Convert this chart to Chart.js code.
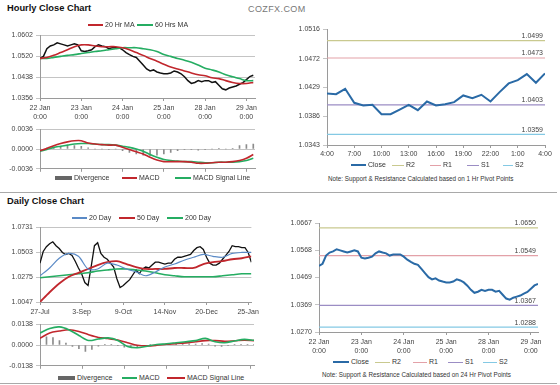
<!DOCTYPE html>
<html>
<head>
<meta charset="utf-8">
<script src="https://cdn.jsdelivr.net/npm/chart.js@4.4.1/dist/chart.umd.min.js"></script>
<style>
  body { margin: 0; background: #fff; }
  #page { position: relative; width: 560px; height: 385px; overflow: hidden; font-family: "Liberation Sans", Arial, sans-serif; color: #333; }
  #page canvas { position: absolute; }
  .title { position: absolute; left: 7px; font-size: 9.3px; font-weight: bold; color: #111; }
  .brand { position: absolute; left: 248px; top: 4px; font-size: 9px; letter-spacing: 0.4px; color: #777; }
  .rule { position: absolute; left: 0; width: 557px; height: 1px; background: #a9a9a9; }
  .key { position: absolute; }
  .lbl { position: absolute; font-size: 7px; line-height: 8px; white-space: nowrap; color: #333; }
  .note { position: absolute; font-size: 6.3px; line-height: 8px; white-space: nowrap; color: #333; }
</style>
</head>
<body>
<div id="page">
  <div class="title" style="top:3px">Hourly Close Chart</div>
  <div class="brand">COZFX.COM</div>
  <div class="title" style="top:196px">Daily Close Chart</div>
  <div class="rule" style="top:192px"></div>
  <div class="rule" style="top:383px"></div>

  <canvas id="hourly" width="262" height="95" style="left:0;top:28px"></canvas>
  <canvas id="hourlyMacd" width="262" height="54" style="left:0;top:122px"></canvas>
  <canvas id="daily" width="262" height="97" style="left:0;top:220px"></canvas>
  <canvas id="dailyMacd" width="262" height="56" style="left:0;top:317px"></canvas>
  <canvas id="pivot1" width="280" height="140" style="left:280px;top:22px"></canvas>
  <canvas id="pivot24" width="290" height="140" style="left:270px;top:216px"></canvas>

  <div class="note" style="left:328px;top:175px">Note: Support &amp; Resistance Calculated based on 1 Hr Pivot Points</div>
  <div class="note" style="left:322px;top:371px">Note: Support &amp; Resistance Calculated based on 24 Hr Pivot Points</div>
</div>
<script>
// ---- hourly: 22 Jan 0:00 -> 29 Jan 4:00, one value every 2 hours ----
const hourLabels = [["22 Jan", "0:00"], ["23 Jan", "0:00"], ["24 Jan", "0:00"], ["25 Jan", "0:00"], ["28 Jan", "0:00"], ["29 Jan", "0:00"]];
const hourTickPos = [0, 12, 24, 36, 48, 60];
const hourlyClose = [
  1.0511, 1.0519, 1.0549, 1.0560, 1.0564, 1.0572, 1.0568, 1.0564, 1.0560, 1.0564, 1.0568, 1.0564,
  1.0541, 1.0538, 1.0541, 1.0545, 1.0557, 1.0564, 1.0560, 1.0557, 1.0549, 1.0553, 1.0553, 1.0553,
  1.0545, 1.0534, 1.0526, 1.0519, 1.0515, 1.0500, 1.0485, 1.0470, 1.0462, 1.0466, 1.0458, 1.0454,
  1.0451, 1.0451, 1.0454, 1.0462, 1.0458, 1.0451, 1.0439, 1.0424, 1.0413, 1.0417, 1.0424, 1.0420,
  1.0424, 1.0424, 1.0417, 1.0420, 1.0406, 1.0392, 1.0388, 1.0395, 1.0399, 1.0403, 1.0410, 1.0416,
  1.0428, 1.0440, 1.0445
];
// moving averages, one value every 4 hours
const ma20Hr = [1.0511, 1.0515, 1.0523, 1.0534, 1.0545, 1.0557, 1.0564, 1.0564, 1.0560, 1.0557, 1.0557, 1.0557,
  1.0553, 1.0545, 1.0534, 1.0523, 1.0511, 1.0500, 1.0488, 1.0477, 1.0470, 1.0462, 1.0454, 1.0447,
  1.0443, 1.0435, 1.0432, 1.0424, 1.0417, 1.0413, 1.0413, 1.0417];
const ma60Hr = [1.0511, 1.0511, 1.0515, 1.0519, 1.0523, 1.0526, 1.0530, 1.0534, 1.0538, 1.0541, 1.0545, 1.0549,
  1.0553, 1.0553, 1.0553, 1.0549, 1.0545, 1.0538, 1.0526, 1.0519, 1.0511, 1.0504, 1.0496, 1.0485,
  1.0473, 1.0466, 1.0458, 1.0447, 1.0439, 1.0432, 1.0424, 1.0424];
const macdHr = [-0.0003, 0.0001, 0.0006, 0.0010, 0.0013, 0.0015, 0.0015, 0.0011, 0.0009, 0.0008, 0.0007, 0.0007,
  0.0003, -0.0001, -0.0005, -0.0009, -0.0015, -0.0020, -0.0023, -0.0023, -0.0023, -0.0023, -0.0024, -0.0026,
  -0.0026, -0.0025, -0.0024, -0.0024, -0.0023, -0.0021, -0.0017, -0.0010];
const signalHr = [-0.0004, -0.0001, 0.0003, 0.0005, 0.0007, 0.0009, 0.0010, 0.0010, 0.0009, 0.0008, 0.0008, 0.0007,
  0.0005, 0.0003, 0.0000, -0.0004, -0.0010, -0.0015, -0.0019, -0.0021, -0.0022, -0.0023, -0.0023, -0.0024,
  -0.0025, -0.0025, -0.0024, -0.0024, -0.0024, -0.0023, -0.0021, -0.0017];
const divergenceHr = [0.0001, 0.0002, 0.0003, 0.0005, 0.0006, 0.0006, 0.0005, 0.0002, 0.0000, 0.0000, -0.0001, 0.0000,
  -0.0003, -0.0006, -0.0009, -0.0011, -0.0012, -0.0011, -0.0009, -0.0006, -0.0003, -0.0001, -0.0001, -0.0002,
  -0.0001, 0.0000, 0.0001, 0.0000, 0.0001, 0.0006, 0.0008, 0.0009];
const hourlyTicks = [1.0356, 1.0438, 1.0520, 1.0602];
const macdHrTicks = [-0.0036, 0.0000, 0.0036];

// ---- daily: 27-Jul -> 25-Jan, one value every 2 trading days ----
const dayLabels = ["27-Jul", "3-Sep", "9-Oct", "14-Nov", "20-Dec", "25-Jan"];
const dayTickPos = [0, 13, 26, 39, 52, 65];
const dailyClose = [
  1.0402, 1.0509, 1.0553, 1.0580, 1.0598, 1.0562, 1.0536, 1.0500, 1.0482, 1.0491, 1.0473, 1.0420,
  1.0358, 1.0305, 1.0225, 1.0198, 1.0376, 1.0562, 1.0589, 1.0491, 1.0456, 1.0438, 1.0402, 1.0367,
  1.0260, 1.0180, 1.0198, 1.0225, 1.0251, 1.0296, 1.0340, 1.0305, 1.0349, 1.0367, 1.0358, 1.0385,
  1.0411, 1.0411, 1.0402, 1.0394, 1.0402, 1.0402, 1.0438, 1.0456, 1.0456, 1.0465, 1.0473, 1.0482,
  1.0518, 1.0544, 1.0553, 1.0527, 1.0456, 1.0402, 1.0385, 1.0385, 1.0402, 1.0438, 1.0473, 1.0509,
  1.0562, 1.0553, 1.0553, 1.0544, 1.0544, 1.0500, 1.0411
];
// moving averages, one value every 6 trading days
const ma20Day = [1.0287, 1.0358, 1.0447, 1.0491, 1.0465, 1.0349, 1.0349, 1.0402, 1.0385, 1.0349, 1.0322, 1.0287,
  1.0322, 1.0367, 1.0394, 1.0429, 1.0456, 1.0482, 1.0465, 1.0456, 1.0491, 1.0500, 1.0500];
const ma50Day = [1.0047, 1.0136, 1.0216, 1.0278, 1.0314, 1.0349, 1.0385, 1.0411, 1.0420, 1.0394, 1.0367, 1.0349,
  1.0349, 1.0349, 1.0358, 1.0358, 1.0358, 1.0394, 1.0411, 1.0420, 1.0438, 1.0447, 1.0465];
const ma200Day = [1.0269, 1.0278, 1.0287, 1.0296, 1.0305, 1.0314, 1.0331, 1.0340, 1.0349, 1.0349, 1.0340, 1.0331,
  1.0314, 1.0296, 1.0287, 1.0278, 1.0278, 1.0278, 1.0278, 1.0287, 1.0296, 1.0305, 1.0305];
const macdDay = [0.0080, 0.0110, 0.0120, 0.0100, 0.0063, 0.0030, 0.0040, 0.0047, 0.0030, -0.0010, -0.0018, -0.0008,
  0.0003, 0.0008, 0.0015, 0.0022, 0.0029, 0.0044, 0.0022, 0.0015, 0.0027, 0.0037, 0.0031];
const signalDay = [0.0045, 0.0080, 0.0093, 0.0101, 0.0090, 0.0068, 0.0050, 0.0043, 0.0033, 0.0015, -0.0002, -0.0006,
  -0.0002, 0.0005, 0.0009, 0.0014, 0.0022, 0.0029, 0.0029, 0.0025, 0.0028, 0.0032, 0.0029];
// divergence, one value every 4 trading days
const divergenceDay = [0.0040, 0.0055, 0.0050, 0.0030, 0.0012, -0.0010, -0.0025, -0.0043, -0.0030, -0.0008, 0.0003, 0.0004,
  -0.0005, -0.0015, -0.0018, -0.0012, -0.0005, 0.0002, 0.0003, 0.0003, 0.0005, 0.0006, 0.0007, 0.0008,
  0.0006, 0.0010, 0.0006, -0.0008, -0.0010, -0.0004, 0.0002, 0.0005, 0.0004, 0.0002];
const dailyTicks = [1.0047, 1.0275, 1.0503, 1.0731];
const macdDayTicks = [-0.0138, 0.0000, 0.0138];

// ---- last 24 hours with 1 Hr pivot levels ----
const pivotHourLabels = ["4:00", "7:00", "10:00", "13:00", "16:00", "19:00", "22:00", "1:00", "4:00"];
const pivotHourPos = [0, 3, 6, 9, 12, 15, 18, 21, 24];
const close24 = [1.0420, 1.0419, 1.0427, 1.0406, 1.0402, 1.0403, 1.0389, 1.0389, 1.0396, 1.0403, 1.0395, 1.0408,
  1.0402, 1.0404, 1.0407, 1.0417, 1.0413, 1.0418, 1.0408, 1.0422, 1.0435, 1.0440, 1.0449, 1.0436, 1.0450];
const pivot1Hr = { R2: 1.0499, R1: 1.0473, S1: 1.0403, S2: 1.0359 };
const pivot1Ticks = [1.0343, 1.0386, 1.0429, 1.0472, 1.0516];

// ---- 24 Hr pivot levels (drawn over the hourly close) ----
const pivot24Hr = { R2: 1.0650, R1: 1.0549, S1: 1.0367, S2: 1.0288 };
const pivot24Ticks = [1.0270, 1.0369, 1.0469, 1.0568, 1.0667];

const RED = "#c1272d", GREEN = "#25ad62", BLUE = "#5a8ac6", CLOSE = "#2a6aa6";
const LEVEL = { R2: "#c9c98f", R1: "#e3a1a8", S1: "#9b8dc4", S2: "#84c9e4" };

Chart.defaults.font.family = '"Liberation Sans", Arial, sans-serif';
Chart.defaults.font.size = 7;
Chart.defaults.color = "#444";
Chart.defaults.animation = false;
Chart.defaults.responsive = false;
Chart.defaults.plugins.legend.display = false;
Chart.defaults.plugins.tooltip.enabled = false;

const pts = (arr, step) => arr.map((v, i) => ({ x: i * step, y: v }));
function line(label, data, color, width, tension) {
  return { type: "line", label, data, borderColor: color, borderWidth: width, pointRadius: 0, tension: tension || 0, fill: false };
}
function bars(label, data) {
  return { type: "bar", label, data, backgroundColor: "#8c8c8c", barThickness: 1, grouped: false };
}
function levels(lv, x0, x1) {
  return Object.keys(lv).map(k => line(k, [{ x: x0, y: lv[k] }, { x: x1, y: lv[k] }], LEVEL[k], 1.2));
}
// value text above each pivot line
function levelText(lv) {
  return {
    id: "levelText",
    afterDatasetsDraw(chart) {
      const { ctx, chartArea, scales } = chart;
      ctx.save();
      ctx.font = '7px "Liberation Sans", Arial, sans-serif';
      ctx.fillStyle = "#444";
      ctx.textAlign = "right";
      ctx.textBaseline = "bottom";
      Object.values(lv).forEach(v => ctx.fillText(v.toFixed(4), chartArea.right - 2, scales.y.getPixelForValue(v) - 1));
      ctx.restore();
    }
  };
}

function draw(id, datasets, o, plugins) {
  return new Chart(document.getElementById(id), {
    type: "line",
    data: { datasets },
    options: {
      devicePixelRatio: 1,
      layout: { padding: { top: o.padTop, right: o.padRight, left: 0, bottom: 0 } },
      scales: {
        x: {
          type: "linear", min: o.xMin, max: o.xMax, offset: false,
          afterBuildTicks: s => { s.ticks = o.xTicks.map(v => ({ value: v })); },
          afterFit: s => { s.height = o.xHeight; },
          border: { color: "#9a9a9a" },
          grid: { drawOnChartArea: false, offset: false, color: "#9a9a9a", tickLength: 3 },
          ticks: { display: !!o.xLabels, autoSkip: false, maxRotation: 0, padding: o.xPad || 1,
                   callback: (v, i) => (o.xLabels ? o.xLabels[i] : "") }
        },
        y: {
          type: "linear", min: o.yMin, max: o.yMax, beginAtZero: false,
          afterBuildTicks: s => { s.ticks = o.yTicks.map(v => ({ value: v })); },
          afterFit: s => { s.width = o.yWidth; },
          border: { color: "#9a9a9a" },
          grid: { drawOnChartArea: o.yGrid, color: "#c4c4c4", tickLength: 4 },
          ticks: { padding: 3, callback: v => v.toFixed(4) }
        }
      }
    },
    plugins: plugins || []
  });
}

draw("hourly", [
  line("20 Hr MA", pts(ma20Hr, 2), RED, 1.6, 0.3),
  line("60 Hrs MA", pts(ma60Hr, 2), GREEN, 1.6, 0.3),
  line("Close", pts(hourlyClose, 1), "#111", 1.5)
], { xMin: 0, xMax: 62.5, xTicks: hourTickPos, xLabels: hourLabels, xHeight: 25, xPad: 3,
     yMin: hourlyTicks[0], yMax: hourlyTicks[3], yTicks: hourlyTicks, yWidth: 40, yGrid: true, padTop: 5, padRight: 7 });

draw("hourlyMacd", [
  line("MACD", pts(macdHr, 2), RED, 1.6, 0.3),
  line("MACD Signal Line", pts(signalHr, 2), GREEN, 1.6, 0.3),
  bars("Divergence", pts(divergenceHr, 2))
], { xMin: 0, xMax: 62.5, xTicks: hourTickPos, xLabels: null, xHeight: 5,
     yMin: macdHrTicks[0], yMax: macdHrTicks[2], yTicks: macdHrTicks, yWidth: 40, yGrid: true, padTop: 5, padRight: 7 });

draw("daily", [
  line("20 Day", pts(ma20Day, 3), BLUE, 1.2, 0.3),
  line("50 Day", pts(ma50Day, 3), RED, 1.8, 0.3),
  line("200 Day", pts(ma200Day, 3), GREEN, 1.6, 0.3),
  line("Close", pts(dailyClose, 1), "#111", 1.3)
], { xMin: 0, xMax: 66, xTicks: dayTickPos, xLabels: dayLabels, xHeight: 15, xPad: 3,
     yMin: dailyTicks[0], yMax: dailyTicks[3], yTicks: dailyTicks, yWidth: 40, yGrid: true, padTop: 5, padRight: 8 });

draw("dailyMacd", [
  line("MACD", pts(macdDay, 3), GREEN, 1.6, 0.3),
  line("MACD Signal Line", pts(signalDay, 3), RED, 1.6, 0.3),
  bars("Divergence", pts(divergenceDay, 2))
], { xMin: 0, xMax: 66, xTicks: dayTickPos, xLabels: null, xHeight: 5,
     yMin: macdDayTicks[0], yMax: macdDayTicks[2], yTicks: macdDayTicks, yWidth: 40, yGrid: true, padTop: 6, padRight: 8 });

draw("pivot1", [
  line("Close", pts(close24, 1), CLOSE, 2),
  ...levels(pivot1Hr, 0, 24)
], { xMin: 0, xMax: 24, xTicks: pivotHourPos, xLabels: pivotHourLabels, xHeight: 17, xPad: 2,
     yMin: pivot1Ticks[0], yMax: pivot1Ticks[4], yTicks: pivot1Ticks, yWidth: 47, yGrid: false, padTop: 5, padRight: 15 },
  [levelText(pivot1Hr)]);

draw("pivot24", [
  line("Close", pts(hourlyClose, 1), CLOSE, 2),
  ...levels(pivot24Hr, 0, 62)
], { xMin: 0, xMax: 62, xTicks: hourTickPos, xLabels: hourLabels, xHeight: 24, xPad: 3,
     yMin: pivot24Ticks[0], yMax: pivot24Ticks[4], yTicks: pivot24Ticks, yWidth: 49, yGrid: false, padTop: 5, padRight: 22 },
  [levelText(pivot24Hr)]);

// legends as html keys + text
function legend(top, items) {
  const page = document.getElementById("page");
  items.forEach(([left, width, color, thick, text]) => {
    const k = document.createElement("div");
    k.className = "key";
    k.style.cssText = `left:${left}px;top:${top - thick / 2}px;width:${width}px;height:${thick}px;background:${color}`;
    page.appendChild(k);
    const t = document.createElement("div");
    t.className = "lbl";
    t.textContent = text;
    t.style.left = (left + width + 2) + "px";
    t.style.top = (top - 4) + "px";
    page.appendChild(t);
  });
}
legend(25, [[88, 15, RED, 2, "20 Hr MA"], [137, 16, GREEN, 2, "60 Hrs MA"]]);
legend(178, [[55, 17, "#666", 4, "Divergence"], [122, 15, RED, 2, "MACD"], [175, 16, GREEN, 2, "MACD Signal Line"]]);
legend(218, [[72, 15, BLUE, 2, "20 Day"], [119, 16, RED, 2, "50 Day"], [167, 16, GREEN, 2, "200 Day"]]);
legend(378, [[58, 17, "#666", 4, "Divergence"], [122, 15, GREEN, 2, "MACD"], [167, 18, RED, 2, "MACD Signal Line"]]);
legend(165, [[351, 15, CLOSE, 2, "Close"], [392, 12, LEVEL.R2, 1, "R2"], [430, 11, LEVEL.R1, 1, "R1"], [467, 12, LEVEL.S1, 1, "S1"], [503, 10, LEVEL.S2, 1, "S2"]]);
legend(362, [[333, 16, CLOSE, 2, "Close"], [375, 15, LEVEL.R2, 1, "R2"], [413, 14, LEVEL.R1, 1, "R1"], [448, 15, LEVEL.S1, 1, "S1"], [483, 14, LEVEL.S2, 1, "S2"]]);
</script>
</body>
</html>
